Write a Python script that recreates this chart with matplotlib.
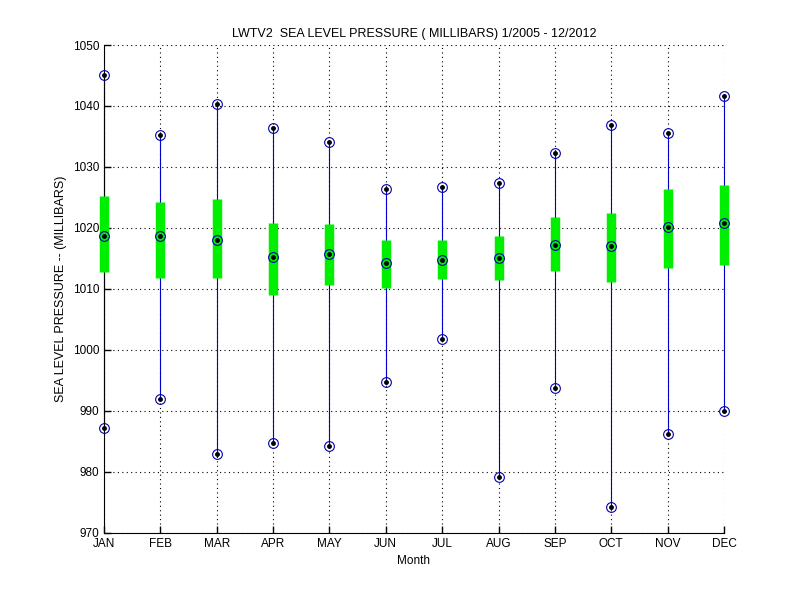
#!/usr/bin/env python3
# -*- coding: utf-8 -*-
import matplotlib
matplotlib.use('Agg')
import matplotlib.pyplot as plt

months = ['JAN', 'FEB', 'MAR', 'APR', 'MAY', 'JUN',
          'JUL', 'AUG', 'SEP', 'OCT', 'NOV', 'DEC']
p_max = [1045.1, 1035.3, 1040.3, 1036.4, 1034.1, 1026.4,
         1026.7, 1027.3, 1032.3, 1036.9, 1035.6, 1041.6]
p_min = [987.2, 992.0, 982.9, 984.8, 984.2, 994.8,
         1001.8, 979.1, 993.8, 974.3, 986.3, 990.0]
p_mean = [1018.7, 1018.7, 1018.0, 1015.2, 1015.7, 1014.3,
          1014.7, 1015.0, 1017.2, 1017.0, 1020.2, 1020.8]
# green bar = mean +/- one std
box_hi = [1025.2, 1024.2, 1024.7, 1020.8, 1020.6, 1018.0,
          1018.0, 1018.7, 1021.8, 1022.4, 1026.4, 1027.1]
box_lo = [1012.8, 1011.8, 1011.8, 1009.0, 1010.7, 1010.2,
          1011.6, 1011.4, 1013.0, 1011.2, 1013.4, 1013.9]

plt.rcParams['font.family'] = ['Liberation Sans', 'DejaVu Sans']
x = list(range(1, 13))

fig = plt.figure(figsize=(8, 6), dpi=100)
ax = fig.add_axes([0.13, 0.1117, 0.775, 0.8133])

ax.vlines(x, p_min, p_max, colors='#0000cc', linewidth=0.8, zorder=2, clip_on=False)
ax.vlines(x, box_lo, box_hi, colors='#00ee00', linewidth=6.8, zorder=3, clip_on=False)

for ys in (p_max, p_min, p_mean):
    ax.plot(x, ys, 'o', ms=7, mfc='none', mec='#0000aa', mew=0.8,
            zorder=4, clip_on=False)
    ax.plot(x, ys, 'o', ms=2.5, color='black', zorder=5, clip_on=False)

ax.set_xlim(1, 12)
ax.set_ylim(970, 1050)
ax.set_xticks(x)
ax.set_xticklabels(months)
ax.set_yticks(range(970, 1051, 10))
ax.tick_params(direction='in', length=5, labelsize=8.5, width=1)
ax.grid(True, color='black', linestyle=(0, (1, 3)), linewidth=0.8)
ax.spines['top'].set_visible(False)
ax.spines['right'].set_visible(False)

ax.set_title('LWTV2  SEA LEVEL PRESSURE ( MILLIBARS) 1/2005 - 12/2012', fontsize=9)
ax.set_xlabel('Month', fontsize=8.5)
ax.set_ylabel('SEA LEVEL PRESSURE -- (MILLIBARS)', fontsize=9)

plt.savefig('out.png', dpi=100)
